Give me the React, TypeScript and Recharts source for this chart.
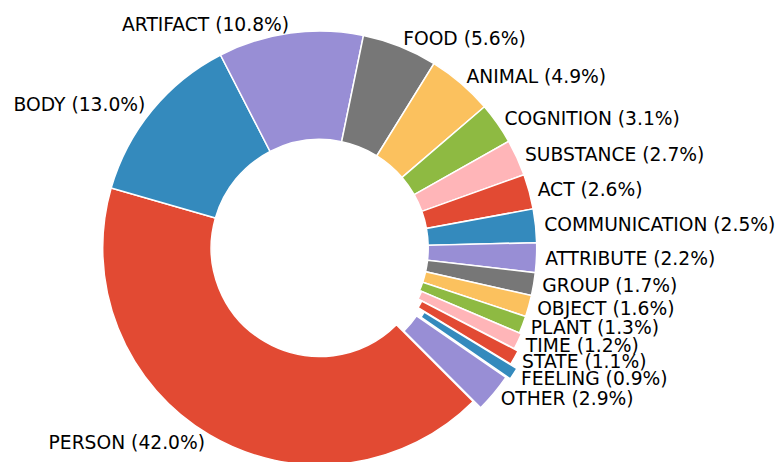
import { PieChart, Pie, Cell } from "recharts";

// supersense categories, clockwise from the lower right
const categories = [
  "PERSON",
  "BODY",
  "ARTIFACT",
  "FOOD",
  "ANIMAL",
  "COGNITION",
  "SUBSTANCE",
  "ACT",
  "COMMUNICATION",
  "ATTRIBUTE",
  "GROUP",
  "OBJECT",
  "PLANT",
  "TIME",
  "STATE",
  "FEELING",
  "OTHER",
];
const shares = [42.0, 13.0, 10.8, 5.6, 4.9, 3.1, 2.7, 2.6, 2.5, 2.2, 1.7, 1.6, 1.3, 1.2, 1.1, 0.9, 2.9];
// how far each wedge is pulled out, as a fraction of the radius
const explode = [0, 0, 0, 0, 0, 0, 0, 0, 0, 0, 0, 0, 0, 0.01, 0.03, 0.065, 0.045];

const palette = ["#E24A33", "#348ABD", "#988ED5", "#777777", "#FBC15E", "#8EBA42", "#FFB5B8"];

const W = 777;
const H = 462;
const CX = 319.7;
const CY = 248;
const R = 217;
const R_IN = 108.5;
const START = 315;
const FONT = "DejaVu Sans, sans-serif";

const data = categories.map((name, i) => ({ name, value: shares[i] }));
const total = shares.reduce((a, b) => a + b, 0);

const midAngleOf = (i: number) => {
  const before = shares.slice(0, i).reduce((a, b) => a + b, 0);
  return START - (360 * (before + shares[i] / 2)) / total;
};

const renderLabel = (props: any) => {
  const { cx, cy, midAngle, outerRadius, index } = props;
  const rad = Math.PI / 180;
  const r = outerRadius * (1.04 + explode[index]);
  const x = cx + r * Math.cos(midAngle * rad);
  const y = cy - r * Math.sin(midAngle * rad);
  return (
    <text
      x={x}
      y={y}
      textAnchor={x > cx ? "start" : "end"}
      dominantBaseline="central"
      fontFamily={FONT}
      fontSize={18.7}
      fill="#000"
    >
      {`${categories[index]} (${shares[index].toFixed(1)}%)`}
    </text>
  );
};

export default function App() {
  const pulled = explode.map((e, i) => ({ e, i })).filter(d => d.e > 0);

  return (
    <div style={{ position: "absolute", left: 0, top: 0, width: W, height: H, background: "#fff" }}>
      <PieChart width={W} height={H} margin={{ top: 0, right: 0, bottom: 0, left: 0 }}>
        <Pie
          data={data}
          dataKey="value"
          nameKey="name"
          cx={CX}
          cy={CY}
          innerRadius={R_IN}
          outerRadius={R}
          startAngle={START}
          endAngle={START - 360}
          label={renderLabel}
          labelLine={false}
          isAnimationActive={false}
        >
          {data.map((d, i) => (
            <Cell
              key={d.name}
              fill={explode[i] > 0 ? "transparent" : palette[i % palette.length]}
              stroke={explode[i] > 0 ? "none" : "#fff"}
              strokeWidth={1.5}
            />
          ))}
        </Pie>
        {pulled.map(({ e, i }) => {
          const mid = (midAngleOf(i) * Math.PI) / 180;
          return (
            <Pie
              key={categories[i]}
              data={data}
              dataKey="value"
              nameKey="name"
              cx={CX + e * R * Math.cos(mid)}
              cy={CY - e * R * Math.sin(mid)}
              innerRadius={R_IN}
              outerRadius={R}
              startAngle={START}
              endAngle={START - 360}
              isAnimationActive={false}
            >
              {data.map((d, j) => (
                <Cell
                  key={d.name}
                  fill={j === i ? palette[j % palette.length] : "transparent"}
                  stroke={j === i ? "#fff" : "none"}
                  strokeWidth={1.5}
                />
              ))}
            </Pie>
          );
        })}
      </PieChart>
    </div>
  );
}
